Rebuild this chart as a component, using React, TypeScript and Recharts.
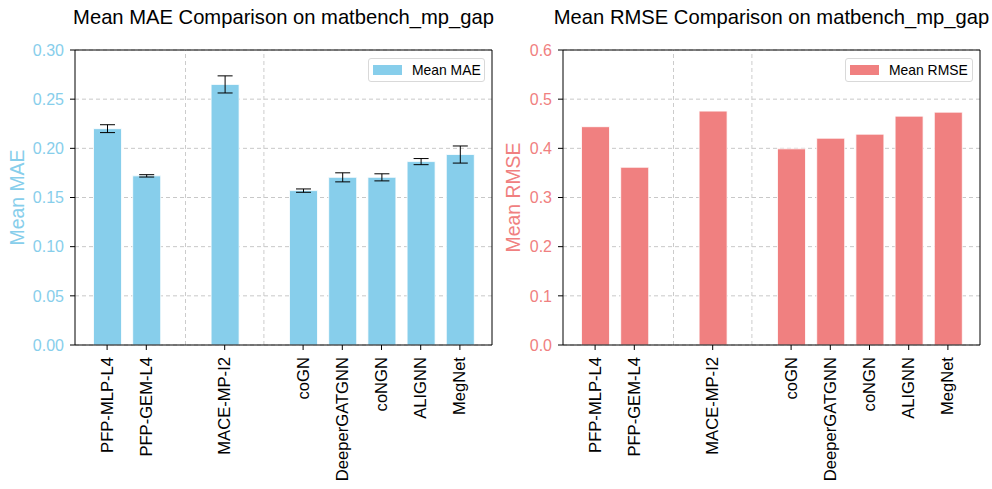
import { BarChart, Bar, XAxis, YAxis, CartesianGrid, ReferenceLine, ErrorBar, Legend } from 'recharts';

const models = ['PFP-MLP-L4', 'PFP-GEM-L4', 'MACE-MP-I2', 'coGN', 'DeeperGATGNN', 'coNGN', 'ALIGNN', 'MegNet'];
const maeMean = [0.220, 0.172, 0.265, 0.157, 0.1705, 0.1705, 0.1865, 0.1937];
const maeStd = [0.004, 0.0012, 0.0087, 0.0017, 0.0046, 0.0036, 0.0031, 0.0087];
const rmseMean = [0.444, 0.3615, 0.4757, 0.399, 0.4206, 0.4288, 0.4655, 0.4736];
// group separators sit in empty slots after these model indices
const gapAfter = [1, 2];
const maeTicks = [0, 0.05, 0.1, 0.15, 0.2, 0.25, 0.3];
const rmseTicks = [0, 0.1, 0.2, 0.3, 0.4, 0.5, 0.6];

const rows: any[] = [];
models.forEach((m, i) => {
  rows.push({ name: m, mae: maeMean[i], maeErr: maeStd[i], rmse: rmseMean[i] });
  const g = gapAfter.indexOf(i);
  if (g >= 0) rows.push({ name: 'gap' + g, mae: null, maeErr: null, rmse: null });
});
const gapNames = gapAfter.map((_, g) => 'gap' + g);

const FONT = '"Liberation Sans", Arial, sans-serif';

const XTick = ({ x, y, payload }: any) => (
  <text
    x={x}
    y={y}
    transform={`rotate(-90 ${x} ${y})`}
    textAnchor="end"
    dominantBaseline="central"
    fontSize={16.6}
    fontFamily={FONT}
    fill="#000"
  >
    {payload.value}
  </text>
);

const LegendBox = ({ color, label }: any) => (
  <div
    style={{
      display: 'flex',
      alignItems: 'center',
      height: 24,
      boxSizing: 'border-box',
      border: '1px solid #d9d9d9',
      borderRadius: 3,
      background: 'rgba(255,255,255,0.8)',
      fontFamily: FONT,
      fontSize: 13.9,
      color: '#000',
    }}
  >
    <span style={{ width: 29, height: 10, background: color, marginLeft: 4, marginRight: 10 }} />
    <span>{label}</span>
  </div>
);

const Panel = ({ left, width, yWidth, marginRight, dataKey, errKey, color, yLabel, title, ticks, digits, legendLabel, legendLeft, legendWidth }: any) => {
  const plotLeft = left + yWidth;
  const plotRight = left + width - marginRight;
  const top = ticks[ticks.length - 1];
  return (
    <div style={{ position: 'absolute', left, top: 0, width, height: 489 }}>
      <div
        style={{
          position: 'absolute',
          top: 7,
          left: plotLeft - left - 40,
          width: plotRight - plotLeft + 80,
          textAlign: 'center',
          fontFamily: FONT,
          fontSize: 20.2,
          lineHeight: 1,
          color: '#000',
          whiteSpace: 'nowrap',
        }}
      >
        {title}
      </div>
      <BarChart width={width} height={489} data={rows} margin={{ top: 49, right: marginRight - 1, bottom: 0, left: 0 }}>
        <CartesianGrid vertical={false} stroke="#c8c8c8" strokeDasharray="4 3" />
        {gapNames.map((g) => (
          <ReferenceLine key={g} x={g} stroke="#cccccc" strokeDasharray="4 3" />
        ))}
        <XAxis
          dataKey="name"
          ticks={models}
          interval={0}
          height={144}
          padding={{ left: 12.5, right: 12.5 }}
          tick={<XTick />}
          tickSize={5}
          tickMargin={7}
          axisLine={{ stroke: '#000' }}
          tickLine={{ stroke: '#000' }}
        />
        <XAxis xAxisId="top" orientation="top" dataKey="name" height={1} tick={false} tickLine={false} axisLine={{ stroke: '#000' }} />
        <YAxis
          width={yWidth}
          domain={[0, top]}
          ticks={ticks}
          tickFormatter={(v: number) => v.toFixed(digits)}
          tick={{ fill: color, fontSize: 16, fontFamily: FONT }}
          tickSize={5}
          tickMargin={6}
          axisLine={{ stroke: '#000' }}
          tickLine={{ stroke: '#000' }}
          label={{
            value: yLabel,
            angle: -90,
            position: 'insideLeft',
            offset: 17,
            style: { textAnchor: 'middle', fill: color, fontSize: 19.4, fontFamily: FONT },
          }}
        />
        <YAxis yAxisId="right" orientation="right" width={1} domain={[0, top]} tick={false} tickLine={false} axisLine={{ stroke: '#000' }} />
        <Legend
          layout="horizontal"
          verticalAlign="middle"
          align="center"
          wrapperStyle={{ position: 'absolute', top: 58, left: legendLeft, width: legendWidth, height: 24 }}
          content={() => <LegendBox color={color} label={legendLabel} />}
        />
        <Bar dataKey={dataKey} name={legendLabel} fill={color} stroke="#ffffff" strokeWidth={0.8} barSize={28} isAnimationActive={false}>
          {errKey && <ErrorBar dataKey={errKey} width={7.5} stroke="#000" strokeWidth={1} direction="y" />}
        </Bar>
      </BarChart>
    </div>
  );
};

export default function App() {
  return (
    <div style={{ position: 'absolute', left: 0, top: 0, width: 992, height: 489, background: '#fff' }}>
      <Panel
        left={0}
        width={500}
        yWidth={75}
        marginRight={8}
        dataKey="mae"
        errKey="maeErr"
        color="#87CEEB"
        yLabel="Mean MAE"
        title="Mean MAE Comparison on matbench_mp_gap"
        ticks={maeTicks}
        digits={2}
        legendLabel="Mean MAE"
        legendLeft={368}
        legendWidth={117}
      />
      <Panel
        left={496}
        width={496}
        yWidth={67}
        marginRight={12}
        dataKey="rmse"
        color="#F08080"
        yLabel="Mean RMSE"
        title="Mean RMSE Comparison on matbench_mp_gap"
        ticks={rmseTicks}
        digits={1}
        legendLabel="Mean RMSE"
        legendLeft={349}
        legendWidth={128}
      />
    </div>
  );
}
